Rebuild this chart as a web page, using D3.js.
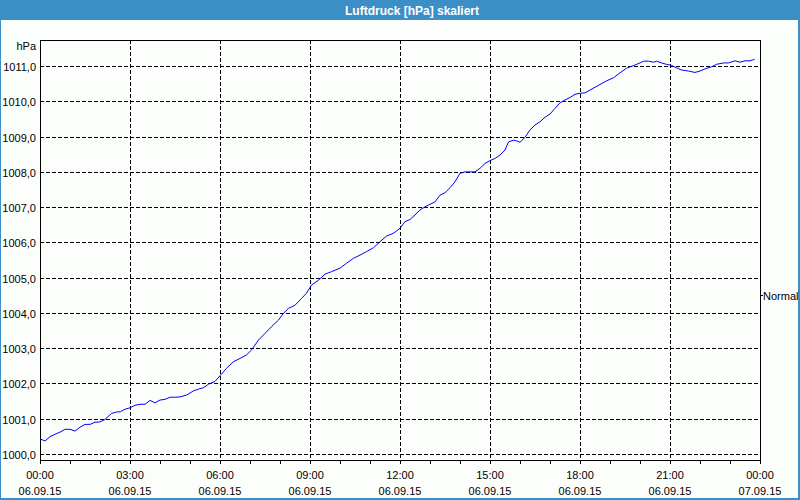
<!DOCTYPE html>
<html>
<head>
<meta charset="utf-8">
<script src="https://cdn.jsdelivr.net/npm/d3@7"></script>
<style>
  html, body { margin: 0; padding: 0; background: #fcfefc; }
  svg { display: block; }
</style>
</head>
<body>
<svg id="chart" width="800" height="500"></svg>
<script>
const title = "Luftdruck [hPa] skaliert";
const unitLabel = "hPa";
const rightLabel = "Normal";
const rightLabelValue = 1004.5;

const times = ["00:00","00:10","00:20","00:30","00:40","00:50","01:00","01:10","01:20","01:30","01:40","01:50",
"02:00","02:10","02:23","02:33","02:41","02:50","03:00","03:10","03:20","03:30","03:40","03:50",
"04:00","04:10","04:20","04:30","04:40","04:53","05:07","05:17","05:27","05:37","05:50",
"06:00","06:13","06:27","06:40","06:53","07:03","07:17","07:30","07:43","07:57",
"08:07","08:17","08:30","08:43","08:53","09:03","09:17","09:30","09:43",
"10:00","10:13","10:27","10:40","10:53","11:07","11:20","11:33","11:47",
"12:00","12:10","12:20","12:30","12:40","12:50","13:00","13:10","13:20","13:30","13:40","13:50",
"14:00","14:10","14:20","14:30","14:40","14:50","15:00","15:10","15:20","15:30","15:37","15:47","15:53",
"16:00","16:10","16:20","16:30","16:40","16:50","17:00","17:10","17:20","17:30","17:40","17:50",
"18:00","18:10","18:20","18:30","18:40","18:53","19:07","19:20","19:33","19:50",
"20:00","20:07","20:17","20:27","20:33","20:43","20:53","21:03","21:13","21:23","21:37","21:50",
"22:00","22:10","22:23","22:33","22:47","22:57","23:10","23:20","23:30","23:40","23:49"];

const pressure = [1000.43,1000.37,1000.49,1000.56,1000.62,1000.70,1000.70,1000.65,1000.76,1000.84,1000.84,1000.90,
1000.91,1000.98,1001.15,1001.19,1001.20,1001.27,1001.31,1001.38,1001.41,1001.41,1001.52,1001.45,
1001.53,1001.55,1001.61,1001.61,1001.62,1001.67,1001.79,1001.84,1001.88,1001.98,1002.06,
1002.22,1002.43,1002.62,1002.71,1002.81,1002.95,1003.23,1003.42,1003.61,1003.80,
1003.99,1004.13,1004.22,1004.41,1004.56,1004.79,1004.93,1005.10,1005.17,
1005.27,1005.41,1005.55,1005.64,1005.74,1005.85,1006.02,1006.18,1006.26,
1006.40,1006.59,1006.65,1006.78,1006.92,1007.01,1007.08,1007.15,1007.34,1007.41,1007.55,1007.72,
1007.96,1008.00,1008.00,1008.00,1008.10,1008.24,1008.32,1008.38,1008.48,1008.62,1008.85,1008.90,1008.88,
1008.84,1008.98,1009.19,1009.33,1009.42,1009.55,1009.64,1009.80,1009.96,1010.04,1010.11,1010.20,
1010.23,1010.24,1010.32,1010.40,1010.48,1010.58,1010.67,1010.81,1010.94,1011.03,
1011.09,1011.14,1011.14,1011.11,1011.14,1011.09,1011.05,1011.02,1010.95,1010.89,1010.86,1010.82,
1010.86,1010.92,1010.98,1011.05,1011.09,1011.09,1011.15,1011.11,1011.15,1011.15,1011.19];

const yTicks = [1000,1001,1002,1003,1004,1005,1006,1007,1008,1009,1010,1011];
const xTickLabels = [["00:00","06.09.15"],["03:00","06.09.15"],["06:00","06.09.15"],["09:00","06.09.15"],
["12:00","06.09.15"],["15:00","06.09.15"],["18:00","06.09.15"],["21:00","06.09.15"],["00:00","07.09.15"]];
const xStart = "2015-09-06 00:00";
const xEnd = "2015-09-07 00:00";
const yDomain = [999.83, 1011.74];

const svg = d3.select("#chart");
const W = 800, H = 500;
const m = {left: 40, top: 40, right: 760, bottom: 460};
const font = "'Liberation Sans', Arial, sans-serif";

const parseFull = d3.timeParse("%Y-%m-%d %H:%M");
const t0 = parseFull(xStart), t1 = parseFull(xEnd);
const data = times.map((t, i) => ({t: parseFull("2015-09-06 " + t), v: pressure[i]}));

const x = d3.scaleTime().domain([t0, t1]).range([m.left, m.right]);
const y = d3.scaleLinear().domain(yDomain).range([m.bottom, m.top]);

// background
svg.append("rect").attr("width", W).attr("height", H).attr("fill", "#fcfefc");

// title bar
svg.append("rect").attr("x", 0).attr("y", 0).attr("width", W).attr("height", 20).attr("fill", "#3c8fc6");
svg.append("text").attr("x", 412).attr("y", 15).attr("text-anchor", "middle")
  .attr("font-family", font).attr("font-weight", "bold").attr("font-size", 12)
  .attr("fill", "#ffffff").text(title);

// window border
svg.append("rect").attr("x", 0.5).attr("y", 0.5).attr("width", W - 1).attr("height", H - 1)
  .attr("fill", "none").attr("stroke", "#3c8fc6").attr("stroke-width", 1);
svg.append("line").attr("x1", 798.5).attr("x2", 798.5).attr("y1", 20).attr("y2", H)
  .attr("stroke", "#3c8fc6");
svg.append("line").attr("x1", 0).attr("x2", W).attr("y1", 498.5).attr("y2", 498.5)
  .attr("stroke", "#3c8fc6");

// horizontal grid
const gridG = svg.append("g");
gridG.selectAll("line.h").data(yTicks).join("line")
  .attr("x1", m.left).attr("x2", m.right)
  .attr("y1", d => Math.round(y(d)) + 0.5).attr("y2", d => Math.round(y(d)) + 0.5)
  .attr("stroke", "#000").attr("stroke-dasharray", "4,2").attr("shape-rendering", "crispEdges");

// vertical grid every 3h
const majorTicks = d3.timeHour.every(3).range(t0, d3.timeMinute.offset(t1, 1));
gridG.selectAll("line.v").data(majorTicks.slice(1, -1)).join("line")
  .attr("x1", d => Math.round(x(d)) + 0.5).attr("x2", d => Math.round(x(d)) + 0.5)
  .attr("y1", m.top).attr("y2", m.bottom)
  .attr("stroke", "#000").attr("stroke-dasharray", "4,2").attr("shape-rendering", "crispEdges");

// frame: top, left, right, bottom
const frame = svg.append("g").attr("stroke", "#000").attr("shape-rendering", "crispEdges");
frame.append("line").attr("x1", m.left).attr("x2", m.right + 1).attr("y1", m.top + 0.5).attr("y2", m.top + 0.5);
frame.append("line").attr("x1", m.left + 0.5).attr("x2", m.left + 0.5).attr("y1", m.top).attr("y2", m.bottom + 4);
frame.append("line").attr("x1", m.right + 0.5).attr("x2", m.right + 0.5).attr("y1", m.top).attr("y2", m.bottom + 4);
frame.append("line").attr("x1", m.left).attr("x2", m.right + 1).attr("y1", m.bottom + 0.5).attr("y2", m.bottom + 0.5);

// hourly ticks
const hourTicks = d3.timeHour.every(1).range(t0, d3.timeMinute.offset(t1, 1));
frame.selectAll("line.tk").data(hourTicks).join("line")
  .attr("x1", d => Math.round(x(d)) + 0.5).attr("x2", d => Math.round(x(d)) + 0.5)
  .attr("y1", m.bottom).attr("y2", m.bottom + 4);

// x labels
const xl = svg.append("g").attr("font-family", font).attr("font-size", 11).attr("fill", "#000").attr("text-anchor", "middle");
xl.selectAll("text.t").data(majorTicks).join("text")
  .attr("x", d => x(d)).attr("y", 479).text((d, i) => xTickLabels[i][0]);
xl.selectAll("text.d").data(majorTicks).join("text")
  .attr("x", d => x(d)).attr("y", 495).text((d, i) => xTickLabels[i][1]);

// y labels
const yl = svg.append("g").attr("font-family", font).attr("font-size", 11).attr("fill", "#000").attr("text-anchor", "end");
yl.selectAll("text").data(yTicks).join("text")
  .attr("x", 36).attr("y", d => Math.round(y(d)) + 5)
  .text(d => d3.format(".1f")(d).replace(".", ","));
yl.append("text").attr("x", 36).attr("y", 50).text(unitLabel);

// right label
const ry = Math.round(y(rightLabelValue)) + 0.5;
svg.append("line").attr("x1", m.right).attr("x2", m.right + 3).attr("y1", ry).attr("y2", ry)
  .attr("stroke", "#000").attr("shape-rendering", "crispEdges");
svg.append("text").attr("x", 763).attr("y", ry + 4).attr("font-family", font).attr("font-size", 11)
  .attr("fill", "#000").text(rightLabel);

// line
svg.append("path").datum(data)
  .attr("d", d3.line().x(d => x(d.t)).y(d => y(d.v)))
  .attr("fill", "none").attr("stroke", "#0000ff").attr("stroke-width", 1);
</script>
</body>
</html>
